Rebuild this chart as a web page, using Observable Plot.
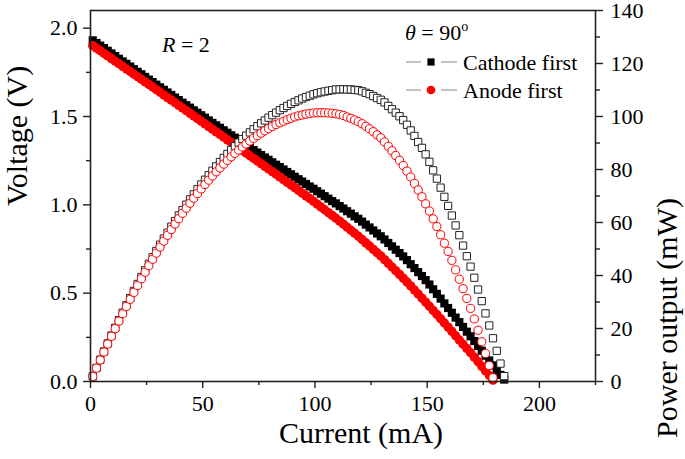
<!DOCTYPE html>
<html><head><meta charset="utf-8">
<script src="https://cdn.jsdelivr.net/npm/d3@7"></script>
<script src="https://cdn.jsdelivr.net/npm/@observablehq/plot@0.6"></script>
<style>body{margin:0;background:#fff} #chart svg{display:block}</style>
</head><body><div id="chart"></div>
<script>
// Current (mA) at each measured point
const current = [1,2.67,4.33,6,7.67,9.33,11,12.67,14.33,16,17.67,19.33,21,22.67,24.33,26,27.67,29.33,31,32.67,34.33,36,37.67,39.33,41,42.67,44.33,46,47.67,49.33,51,52.67,54.33,56,57.67,59.33,61,62.67,64.33,66,67.67,69.33,71,72.67,74.33,76,77.67,79.33,81,82.67,84.33,86,87.67,89.33,91,92.67,94.33,96,97.67,99.33,101,102.67,104.33,106,107.67,109.33,111,112.67,114.33,116,117.67,119.33,121,122.67,124.33,126,127.67,129.33,131,132.67,134.33,136,137.67,139.33,141,142.67,144.33,146,147.67,149.33,151,152.67,154.33,156,157.67,159.33,161,162.67,164.33,166,167.67,169.33,171,172.67,174.33,176,177.67,179.33,181,182.67,184.33];

// Cathode first: voltage (V) and power output (mW)
const cathodeVoltage = [1.931,1.916,1.901,1.887,1.872,1.857,1.842,1.827,1.812,1.798,1.783,1.768,1.753,1.739,1.724,1.709,1.695,1.680,1.665,1.651,1.636,1.622,1.607,1.593,1.578,1.564,1.550,1.535,1.521,1.507,1.493,1.478,1.464,1.450,1.436,1.422,1.408,1.394,1.380,1.366,1.352,1.338,1.324,1.310,1.296,1.282,1.268,1.255,1.241,1.227,1.214,1.200,1.186,1.173,1.159,1.145,1.132,1.118,1.104,1.091,1.077,1.063,1.049,1.035,1.021,1.008,0.993,0.979,0.964,0.950,0.935,0.921,0.905,0.888,0.872,0.855,0.838,0.822,0.804,0.784,0.765,0.746,0.727,0.708,0.687,0.664,0.642,0.619,0.597,0.574,0.549,0.522,0.496,0.469,0.442,0.416,0.389,0.362,0.336,0.309,0.282,0.256,0.229,0.201,0.174,0.146,0.119,0.091,0.064,0.037,0.011];
const cathodePower = [1.93,5.12,8.23,11.32,14.36,17.33,20.26,23.15,25.97,28.77,31.51,34.18,36.81,39.42,41.95,44.43,46.90,49.27,51.62,53.94,56.16,58.39,60.54,62.65,64.70,66.74,68.71,70.61,72.51,74.34,76.14,77.85,79.54,81.20,82.81,84.37,85.89,87.36,88.78,90.16,91.49,92.76,94.00,95.20,96.33,97.43,98.49,99.56,100.52,101.44,102.38,103.20,103.98,104.78,105.47,106.11,106.78,107.33,107.83,108.37,108.78,109.14,109.44,109.71,109.93,110.20,110.22,110.30,110.21,110.20,110.02,109.90,109.51,108.93,108.42,107.73,106.99,106.31,105.32,104.01,102.76,101.46,100.09,98.65,96.87,94.73,92.66,90.37,88.16,85.72,82.90,79.69,76.55,73.16,69.69,66.28,62.63,58.89,55.22,51.29,47.28,43.35,39.16,34.71,30.33,25.70,21.14,16.32,11.58,6.76,2.03];

// Anode first: voltage (V) and power output (mW)
const anodeVoltage = [1.901,1.887,1.872,1.857,1.843,1.828,1.813,1.799,1.784,1.769,1.755,1.740,1.725,1.711,1.696,1.681,1.667,1.652,1.637,1.622,1.607,1.593,1.578,1.563,1.548,1.533,1.518,1.503,1.488,1.473,1.458,1.443,1.428,1.413,1.398,1.383,1.368,1.353,1.338,1.323,1.308,1.293,1.278,1.263,1.248,1.233,1.218,1.203,1.188,1.173,1.158,1.142,1.127,1.112,1.097,1.082,1.066,1.051,1.036,1.020,1.004,0.988,0.972,0.956,0.940,0.924,0.908,0.891,0.873,0.856,0.839,0.822,0.804,0.785,0.767,0.748,0.729,0.711,0.690,0.669,0.648,0.627,0.606,0.585,0.563,0.541,0.518,0.495,0.472,0.449,0.426,0.402,0.379,0.355,0.331,0.308,0.284,0.259,0.235,0.211,0.187,0.163,0.138,0.112,0.086,0.060,0.034,0.008];
const anodePower = [1.90,5.04,8.11,11.14,14.14,17.06,19.94,22.79,25.56,28.30,31.01,33.63,36.23,38.79,41.26,43.71,46.13,48.45,50.75,52.99,55.17,57.35,59.44,61.47,63.47,65.41,67.29,69.14,70.93,72.66,74.36,76.00,77.58,79.13,80.62,82.05,83.45,84.79,86.07,87.32,88.51,89.64,90.74,91.78,92.76,93.71,94.60,95.43,96.23,96.97,97.65,98.21,98.80,99.33,99.83,100.27,100.56,100.90,101.19,101.32,101.40,101.44,101.41,101.34,101.21,101.02,100.79,100.39,99.81,99.30,98.72,98.09,97.28,96.30,95.36,94.25,93.07,91.95,90.39,88.76,87.05,85.27,83.43,81.51,79.38,77.18,74.76,72.27,69.70,67.05,64.33,61.37,58.49,55.38,52.19,49.07,45.72,42.13,38.62,35.03,31.35,27.60,23.60,19.34,14.99,10.56,6.04,1.43];

// Tick values
const xMajor = [0,50,100,150,200];
const xMinor = [25,75,125,175,225];
const vMajor = [0,0.5,1.0,1.5,2.0];
const vMinor = [0.25,0.75,1.25,1.75];
const pMajor = [0,20,40,60,80,100,120,140];
const pMinor = [10,30,50,70,90,110,130];

const vMax = 2.1, pMax = 140;
const p2v = vMax / pMax; // right axis 0–140 mW shares the 0–2.1 V scale

const cathode = cathodeVoltage.map((v, i) => ({current: current[i], voltage: v, power: cathodePower[i]}));
const anode = anodeVoltage.map((v, i) => ({current: current[i], voltage: v, power: anodePower[i]}));

const serif = "'Liberation Serif', 'Times New Roman', serif";
const tickFont = 22;
const axisStroke = "#222";

const chart = Plot.plot({
  width: 685, height: 459,
  marginLeft: 90, marginRight: 90, marginTop: 10, marginBottom: 78,
  style: {fontFamily: serif, fontSize: tickFont + "px", background: "white", color: "black"},
  x: {domain: [0, 225], label: null},
  y: {domain: [0, vMax], label: null},
  marks: [
    Plot.axisX({ticks: xMajor, tickSize: 7, tickPadding: 7, tickFormat: d => String(d), fontSize: tickFont, strokeWidth: 1.4, stroke: axisStroke}),
    Plot.axisX({ticks: xMinor, tickSize: 4, tickFormat: () => "", strokeWidth: 1.4, stroke: axisStroke}),
    Plot.axisY({ticks: vMajor, tickSize: 7, tickPadding: 6, tickFormat: d3.format(".1f"), fontSize: tickFont, strokeWidth: 1.4, stroke: axisStroke}),
    Plot.axisY({ticks: vMinor, tickSize: 4, tickFormat: () => "", strokeWidth: 1.4, stroke: axisStroke}),
    Plot.axisY({anchor: "right", ticks: pMajor.map(p => p * p2v), tickSize: 7, tickPadding: 8, tickFormat: v => String(Math.round(v / p2v)), fontSize: tickFont, strokeWidth: 1.4, stroke: axisStroke}),
    Plot.axisY({anchor: "right", ticks: pMinor.map(p => p * p2v), tickSize: 4, tickFormat: () => "", strokeWidth: 1.4, stroke: axisStroke}),
    Plot.dot(cathode, {x: "current", y: "voltage", symbol: "square", r: 4.6, fill: "black"}),
    Plot.dot(anode, {x: "current", y: "voltage", symbol: "circle", r: 4.7, fill: "#ff0000"}),
    Plot.dot(cathode, {x: "current", y: d => d.power * p2v, symbol: "square", r: 4.1, fill: "white", stroke: "#222", strokeWidth: 1}),
    Plot.dot(anode, {x: "current", y: d => d.power * p2v, symbol: "circle", r: 4.1, fill: "white", stroke: "#ff0000", strokeWidth: 1}),
    Plot.frame({stroke: axisStroke, strokeWidth: 1.6}),
    Plot.text(["Current (mA)"], {frameAnchor: "bottom", dx: 18, dy: 61, fontSize: 30}),
    Plot.text(["Voltage (V)"], {frameAnchor: "left", dx: -73, dy: 10, rotate: -90, fontSize: 30}),
    Plot.text(["Power output (mW)"], {frameAnchor: "right", dx: 72, dy: 2, rotate: -90, fontSize: 30})
  ]
});

document.getElementById("chart").appendChild(chart);

// Annotations and legend (Plot's svg centres text by default, so anchor at start)
const svg = d3.select(chart);
const g = svg.append("g")
  .attr("font-family", serif).attr("font-size", 22)
  .attr("fill", "black").attr("text-anchor", "start");

const tR = g.append("text").attr("x", 162).attr("y", 52);
tR.append("tspan").attr("font-style", "italic").text("R");
tR.append("tspan").text(" = 2");

const tTheta = g.append("text").attr("x", 405).attr("y", 40);
tTheta.append("tspan").attr("font-style", "italic").text("θ");
tTheta.append("tspan").text(" = 90");
tTheta.append("tspan").attr("font-size", 14).attr("dy", -9).text("o");

const legendItems = [
  {label: "Cathode first", color: "black", symbol: d3.symbolSquare, size: 52, y: 62},
  {label: "Anode first", color: "#ff0000", symbol: d3.symbolCircle, size: 60, y: 90}
];
for (const item of legendItems) {
  g.append("line").attr("x1", 406).attr("x2", 421).attr("y1", item.y).attr("y2", item.y).attr("stroke", "#888").attr("stroke-width", 1);
  g.append("line").attr("x1", 441).attr("x2", 457).attr("y1", item.y).attr("y2", item.y).attr("stroke", "#888").attr("stroke-width", 1);
  g.append("path").attr("d", d3.symbol(item.symbol, item.size)()).attr("transform", `translate(431,${item.y})`).attr("fill", item.color);
  g.append("text").attr("x", 463).attr("y", item.y + 8).text(item.label);
}
</script>
</body></html>
